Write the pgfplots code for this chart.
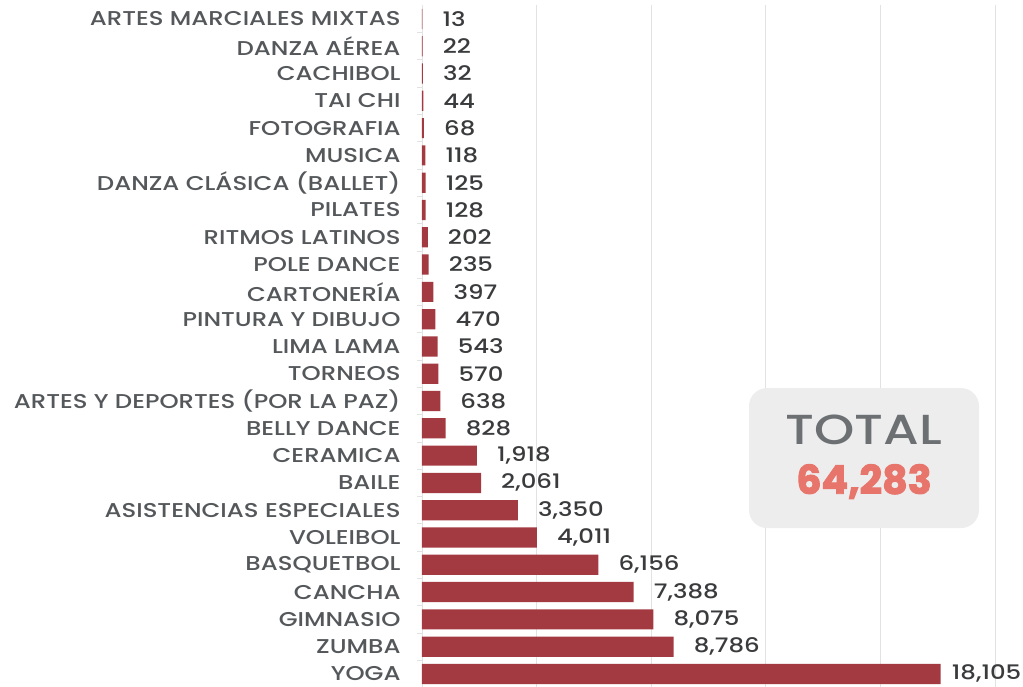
\documentclass[border=0pt]{standalone}
\usepackage{pgfplots}
\pgfplotsset{compat=1.18}
\usepackage{pgfplotstable}
\usepackage{fontspec}
\IfFontExistsTF{Poppins Medium}{%
  \setmainfont{Poppins Medium}[FakeStretch=1.22]%
}{%
  \setmainfont{Poppins}[FakeStretch=1.22, FakeBold=0.45]%
}
\newfontfamily\boldnum{Poppins}[FakeBold=2.5]
\definecolor{barred}{HTML}{A33A41}
\definecolor{labgray}{HTML}{55585B}
\definecolor{valgray}{HTML}{3A3B3D}
\definecolor{gridgray}{HTML}{E2E2E2}
\definecolor{boxgray}{HTML}{EDEDED}
\definecolor{totgray}{HTML}{6D7073}
\definecolor{totred}{HTML}{E8756B}
\pgfplotstableread{
idx value shift
0 18105 11
1 8786 20
2 8075 20
3 7388 20
4 6156 20
5 4011 20
6 3350 20
7 2061 20
8 1918 20
9 828 20
10 638 20
11 570 20
12 543 20
13 470 20
14 397 20
15 235 20
16 202 20
17 128 20
18 125 20
19 118 20
20 68 20
21 44 20
22 32 20
23 22 20
24 13 20
}\datatable
\begin{document}
\begin{tikzpicture}
\begin{axis}[
  scale only axis,
  width=573pt, height=682.3pt,
  anchor=south west, at={(0,0)},
  xmin=0, xmax=20000,
  ymin=-0.5, ymax=24.5,
  xbar, bar width=0.74,
  axis lines*=left,
  axis line style={draw=gridgray, line width=0.8pt},
  xtick={0,4000,8000,12000,16000,20000},
  xticklabels={},
  xmajorgrids, grid style={draw=gridgray, line width=0.8pt},
  x tick style={draw=none},
  ytick={0,...,24},
  yticklabels={YOGA,ZUMBA,GIMNASIO,CANCHA,BASQUETBOL,VOLEIBOL,ASISTENCIAS ESPECIALES,BAILE,CERAMICA,BELLY DANCE,ARTES Y DEPORTES (POR LA PAZ),TORNEOS,LIMA LAMA,PINTURA Y DIBUJO,CARTONERÍA,POLE DANCE,RITMOS LATINOS,PILATES,DANZA CLÁSICA (BALLET),MUSICA,FOTOGRAFIA,TAI CHI,CACHIBOL,DANZA AÉREA,ARTES MARCIALES MIXTAS},
  major y tick style={draw=none},
  minor ytick={0.5,1.5,...,23.5},
  minor y tick style={draw=gridgray, line width=0.8pt},
  minor tick length=5pt,
  tick align=outside,
  y tick label style={font=\fontsize{20}{20}\selectfont, text=labgray, inner sep=0pt, xshift=-17pt},
  /pgf/number format/assume math mode=true,
  /pgf/number format/1000 sep={,},
  point meta=x,
  nodes near coords,
  visualization depends on={\thisrow{shift} \as \myshift},
  nodes near coords style={anchor=west, inner sep=0pt, xshift=\myshift pt, font=\fontsize{20}{20}\selectfont, text=valgray},
  clip=false,
]
\addplot[fill=barred, draw=none] table[x=value, y=idx] {\datatable};
\node[fill=boxgray, rounded corners=18pt, minimum width=230pt, minimum height=140pt, inner sep=0pt] at (axis cs:15428,7.91) {};
\node[text=totgray, font=\fontsize{42}{42}\selectfont, inner sep=0pt] at (axis cs:15428,8.95) {TOTAL};
\node[text=totred, font=\boldnum\fontsize{39.5}{39.5}\selectfont\bfseries, inner sep=0pt] at (axis cs:15428,7.05) {64,283};
\end{axis}
\pgfresetboundingbox
\path (-422pt,0.6pt) rectangle (601pt,687.6pt);
\end{tikzpicture}
\end{document}
